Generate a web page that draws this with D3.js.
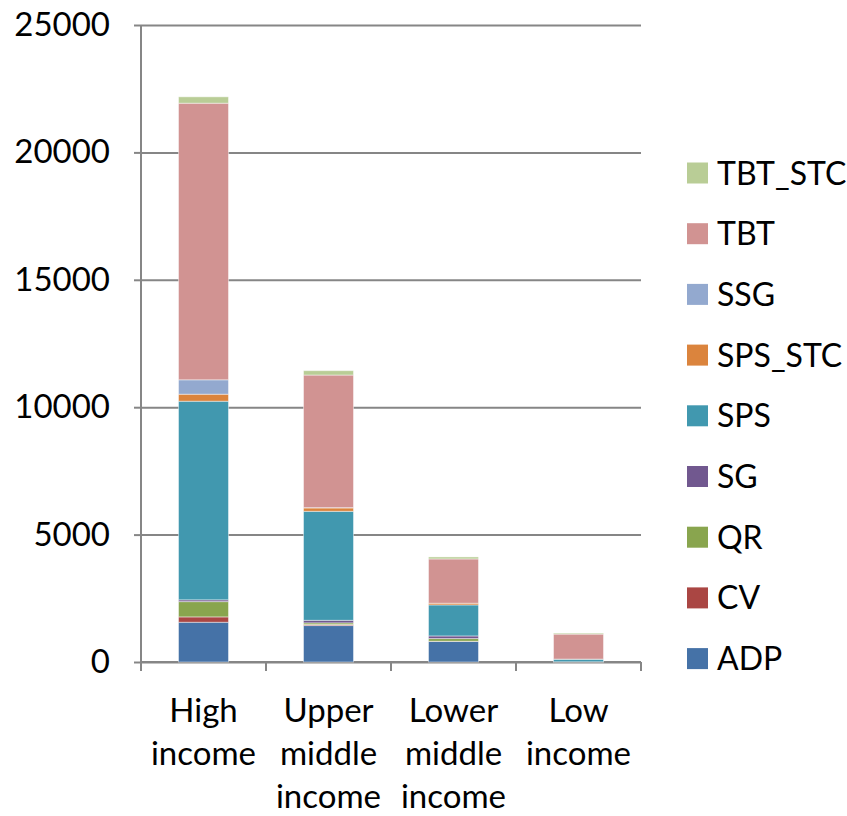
<!DOCTYPE html>
<html>
<head>
<meta charset="utf-8">
<script src="https://cdn.jsdelivr.net/npm/d3@7"></script>
<style>
  html, body { margin: 0; padding: 0; background: #ffffff; }
  svg { display: block; font-family: Lato, 'Open Sans', sans-serif; }
</style>
</head>
<body>
<div id="chart"></div>
<script>
// income groups (x axis), each label split in lines
const categories = ['High income', 'Upper middle income', 'Lower middle income', 'Low income'];
const categoryLines = [['High', 'income'], ['Upper', 'middle', 'income'], ['Lower', 'middle', 'income'], ['Low', 'income']];

// series values, bottom to top of the stack
const seriesNames = ['ADP', 'CV', 'QR', 'SG', 'SPS', 'SPS_STC', 'SSG', 'TBT', 'TBT_STC'];
const ADP = [1560, 1430, 805, 10];
const CV = [210, 40, 10, 0];
const QR = [600, 66, 105, 0];
const SG = [70, 100, 103, 0];
const SPS = [7795, 4278, 1217, 100];
const SPS_STC = [275, 134, 66, 5];
const SSG = [565, 10, 0, 0];
const TBT = [10856, 5204, 1739, 980];
const TBT_STC = [250, 172, 78, 40];

const yTicks = [0, 5000, 10000, 15000, 20000, 25000];

const seriesValues = { ADP, CV, QR, SG, SPS, SPS_STC, SSG, TBT, TBT_STC };
const colors = {
  ADP: '#4572a7',
  CV: '#aa4643',
  QR: '#89a54e',
  SG: '#71588f',
  SPS: '#4198af',
  SPS_STC: '#db843d',
  SSG: '#93a9cf',
  TBT: '#d19392',
  TBT_STC: '#b9cd96',
};

const totalWidth = 847;
const totalHeight = 816;
const margin = { top: 25, right: 206, bottom: 154, left: 141 };
const width = totalWidth - margin.left - margin.right;
const height = totalHeight - margin.top - margin.bottom;
const fontSize = 33;
const legendFontSize = 32;

// table for d3.stack built from the arrays above
const table = categories.map((c, i) => {
  const row = { category: c };
  seriesNames.forEach((s) => { row[s] = seriesValues[s][i]; });
  return row;
});
const stacked = d3.stack().keys(seriesNames)(table);

const xScale = d3.scaleBand().domain(categories).range([0, width]).paddingInner(0).paddingOuter(0);
const yScale = d3.scaleLinear().domain([0, 25000]).range([height, 0]);
const barWidth = 50;

const svg = d3
  .select('#chart')
  .append('svg')
  .attr('width', totalWidth)
  .attr('height', totalHeight)
  .append('g')
  .attr('transform', `translate(${margin.left}, ${margin.top})`);

// Render gridlines + y axis
const yAxis = svg
  .append('g')
  .call(d3.axisLeft(yScale).tickValues(yTicks).tickSize(7).tickPadding(24).tickFormat(d3.format('d')));
yAxis.select('.domain').attr('stroke', '#868686').attr('stroke-width', 2).attr('d', `M0,${height + 1}V0`);
yAxis.selectAll('.tick line').attr('stroke', '#868686').attr('stroke-width', 2);
yAxis
  .selectAll('.tick line')
  .clone()
  .attr('x1', 0)
  .attr('x2', width)
  .attr('stroke', '#868686')
  .attr('stroke-width', 2);
yAxis.selectAll('.tick text').attr('font-size', fontSize).attr('fill', '#000').attr('font-family', 'Lato, sans-serif');

// Render x axis
const xAxis = svg
  .append('g')
  .attr('transform', `translate(0, ${height})`)
  .call(d3.axisBottom(xScale).tickSize(0).tickFormat(''));
xAxis.select('.domain').remove();
xAxis
  .selectAll('.cat-tick')
  .data(d3.range(categories.length + 1))
  .join('line')
  .attr('x1', (i) => i * xScale.step())
  .attr('x2', (i) => i * xScale.step())
  .attr('y1', 0)
  .attr('y2', 9)
  .attr('stroke', '#868686')
  .attr('stroke-width', 2);
xAxis
  .append('line')
  .attr('x1', 0)
  .attr('x2', width)
  .attr('stroke', '#868686')
  .attr('stroke-width', 2);

// category labels, several lines each
const labels = svg
  .append('g')
  .selectAll('text')
  .data(categories)
  .join('text')
  .attr('text-anchor', 'middle')
  .attr('font-size', fontSize)
  .attr('fill', '#000');
labels
  .selectAll('tspan')
  .data((d, i) => categoryLines[i].map((t) => ({ t, c: d })))
  .join('tspan')
  .attr('x', (d) => xScale(d.c) + xScale.bandwidth() / 2)
  .attr('y', (d, j) => height + 60 + j * 43)
  .text((d) => d.t);

// Render bars
svg
  .append('g')
  .selectAll('g')
  .data(stacked)
  .join('g')
  .attr('fill', (s) => colors[s.key])
  .selectAll('rect')
  .data((s) => s.map((d, i) => ({ d, c: categories[i] })))
  .join('rect')
  .attr('x', (p) => xScale(p.c) + (xScale.bandwidth() - barWidth) / 2)
  .attr('y', (p) => yScale(p.d[1]))
  .attr('width', barWidth)
  .attr('height', (p) => yScale(p.d[0]) - yScale(p.d[1]))
  .attr('stroke', '#ffffff')
  .attr('stroke-opacity', 0.45)
  .attr('stroke-width', 1);

// Legend, top entry is the top series
const legend = svg
  .append('g')
  .attr('transform', `translate(${width + 46}, 0)`);
const legendItems = legend
  .selectAll('g')
  .data(seriesNames.slice().reverse())
  .join('g')
  .attr('transform', (d, i) => `translate(0, ${148 + i * 60.7})`);
legendItems
  .append('rect')
  .attr('x', 0)
  .attr('y', -10.5)
  .attr('width', 21)
  .attr('height', 21)
  .attr('fill', (d) => colors[d]);
legendItems
  .append('text')
  .attr('x', 30)
  .attr('dy', '0.36em')
  .attr('font-size', legendFontSize)
  .attr('fill', '#000')
  .text((d) => d);
</script>
</body>
</html>
